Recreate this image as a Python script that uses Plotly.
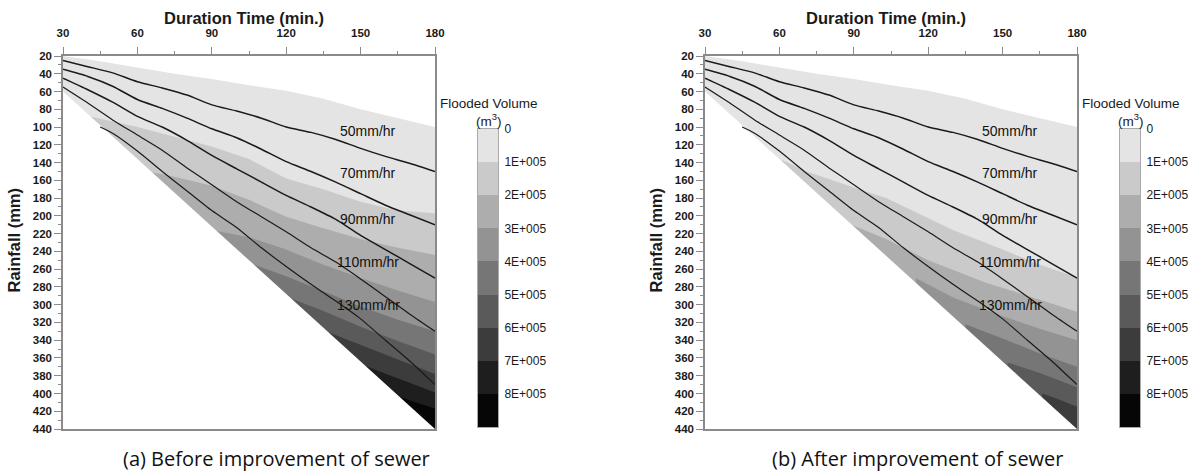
import plotly.graph_objects as go

# ---------------- data ----------------
dur_ticks = [30, 60, 90, 120, 150, 180]
rain_ticks = list(range(20, 441, 20))

cb_levels = [0, 1, 2, 3, 4, 5, 6, 7, 8]
cb_labels = ["0", "1E+005", "2E+005", "3E+005", "4E+005", "5E+005", "6E+005", "7E+005", "8E+005"]
band_colors = ["#e4e4e4", "#cacaca", "#adadad", "#939393", "#767676",
               "#5a5a5a", "#3c3c3c", "#1e1e1e", "#060606"]

# design-storm lines: rainfall depth (mm) vs duration (min)
line_x = [30, 40, 50, 60, 70, 80, 90, 100, 110, 120, 130, 140, 150, 160, 170, 180]
rain_50 = [25, 32, 39, 49, 56, 64, 75, 82, 90, 100, 106, 114, 124, 133, 141, 150]
rain_70 = [35, 43, 54, 69, 79, 90, 102, 112, 125, 139, 150, 162, 175, 188, 199, 210]
rain_90 = [45, 58, 72, 88, 100, 115, 132, 147, 162, 177, 190, 204, 222, 238, 254, 270]
rain_110 = [55, 73, 92, 109, 126, 146, 165, 184, 201, 218, 236, 252, 271, 291, 311, 330]
line130_x = [45, 50, 60, 70, 80, 90, 100, 110, 120, 130, 140, 150, 160, 170, 180]
rain_130 = [100, 107, 127, 150, 172, 194, 213, 236, 257, 277, 296, 316, 340, 364, 390]
line_names = ["50mm/hr", "70mm/hr", "90mm/hr", "110mm/hr", "130mm/hr"]

# outline of the computed domain
top_x = [30, 45, 60, 75, 90, 105, 120, 135, 150, 165, 180]
top_y = [20, 26, 33, 40, 46, 53, 59, 68, 80, 90, 100]
edge_x = [30, 180]
edge_y = [60, 440]

# (a) before improvement: flooded-volume level boundaries (1E5 ... 8E5)
a1_x = [41, 60, 75, 90, 105, 120, 135, 150, 165, 180]
a1_y = [88, 100, 111, 122, 136, 158, 170, 184, 194, 197]
a2_x = [66, 75, 90, 105, 120, 135, 150, 165, 180]
a2_y = [151, 156, 166, 182, 201, 214, 226, 236, 244]
a3_x = [92, 105, 120, 135, 150, 165, 180]
a3_y = [217, 224, 238, 255, 270, 284, 297]
a4_x = [107, 120, 135, 150, 165, 180]
a4_y = [255, 268, 285, 302, 317, 330]
a5_x = [122, 135, 150, 165, 180]
a5_y = [293, 307, 325, 341, 356]
a6_x = [137, 150, 165, 180]
a6_y = [331, 345, 362, 378]
a7_x = [152, 165, 180]
a7_y = [369, 383, 399]
a8_x = [166, 172, 180]
a8_y = [404, 410, 417]

# (b) after improvement
b1_x = [61, 71, 90, 103, 115, 130, 150, 165, 180]
b1_y = [137, 150, 168, 180, 196, 216, 238, 255, 269]
b2_x = [89, 103, 120, 143, 160, 180]
b2_y = [210, 226, 250, 275, 290, 308]
b3_x = [115, 130, 150, 165, 180]
b3_y = [270, 292, 313, 327, 340]
b4_x = [135, 150, 165, 180]
b4_y = [322, 338, 355, 370]
b5_x = [152, 165, 180]
b5_y = [365, 377, 393]
b6_x = [166, 172, 180]
b6_y = [400, 406, 415]

bounds_a = [(a1_x, a1_y), (a2_x, a2_y), (a3_x, a3_y), (a4_x, a4_y),
            (a5_x, a5_y), (a6_x, a6_y), (a7_x, a7_y), (a8_x, a8_y)]
bounds_b = [(b1_x, b1_y), (b2_x, b2_y), (b3_x, b3_y), (b4_x, b4_y),
            (b5_x, b5_y), (b6_x, b6_y)]

lines = [(line_x, rain_50), (line_x, rain_70), (line_x, rain_90),
         (line_x, rain_110), (line130_x, rain_130)]

# ---------------- figure ----------------
FONT = "Liberation Sans"
AXC = "#8a8a8a"
TXT = "#1a1a1a"
fig = go.Figure()


def poly(x, y, color, xa, ya):
    fig.add_trace(go.Scatter(x=x, y=y, fill="toself", fillcolor=color, mode="lines",
                             line=dict(width=0, color=color), xaxis=xa, yaxis=ya,
                             hoverinfo="skip", showlegend=False))


def add_panel(xa, ya, bounds):
    xmax, ymax = dur_ticks[-1], rain_ticks[-1]
    poly(top_x + [xmax, top_x[0]], top_y + [ymax, ymax], band_colors[0], xa, ya)
    for k, (bx, by) in enumerate(bounds, start=1):
        poly(bx + [xmax, bx[0]], by + [ymax, ymax], band_colors[k], xa, ya)
    # blank area outside the computed domain (lower-left)
    poly(edge_x + [edge_x[0]], edge_y + [ymax], "#ffffff", xa, ya)
    for i, (lx, ly) in enumerate(lines):
        fig.add_trace(go.Scatter(x=lx, y=ly, mode="lines",
                                 line=dict(color="#1a1a1a", width=1.5 if i < 3 else 1.2,
                                           shape="spline", smoothing=0.6),
                                 xaxis=xa, yaxis=ya, hoverinfo="skip", showlegend=False))


def add_cbar(xa, ya):
    n = len(cb_levels)
    cs = [[i / (n - 1), c] for i, c in enumerate(band_colors)]
    fig.add_trace(go.Heatmap(z=[[v] for v in cb_levels], x=[0], y=[v + 0.5 for v in cb_levels],
                             colorscale=cs, zmin=0, zmax=n - 1, showscale=False,
                             xaxis=xa, yaxis=ya, hoverinfo="skip", xgap=0, ygap=0))


add_panel("x", "y", bounds_a)
add_panel("x2", "y2", bounds_b)
add_cbar("x3", "y3")
add_cbar("x4", "y4")

W, H = 1190, 475
px = lambda v: v / W
py = lambda v: 1 - v / H

xcommon = dict(range=[30, 180], side="top", tickvals=dur_ticks, ticks="outside", ticklen=7,
               tickwidth=1.3, tickcolor=AXC, showline=True, linecolor=AXC, linewidth=1.5,
               mirror=True, showgrid=False, zeroline=False, automargin=False,
               ticklabelstandoff=6,
               tickfont=dict(family=FONT, size=11.5, color=TXT, weight="bold"),
               minor=dict(dtick=15, tick0=30, ticks="outside", ticklen=3, tickcolor=AXC, tickwidth=1))
ycommon = dict(range=[440, 20], tickvals=rain_ticks, ticks="outside", ticklen=7,
               tickwidth=1.3, tickcolor=AXC, showline=True, linecolor=AXC, linewidth=1.5,
               mirror=True, showgrid=False, zeroline=False, automargin=False,
               tickfont=dict(family=FONT, size=11.5, color=TXT, weight="bold"),
               minor=dict(dtick=10, tick0=20, ticks="outside", ticklen=3, tickcolor=AXC, tickwidth=1))

cbx = dict(range=[-0.5, 0.5], showticklabels=False, ticks="", showgrid=False, zeroline=False,
           showline=True, linecolor="#aaaaaa", linewidth=1, mirror=True, automargin=False)
cby = dict(range=[9, 0], tickvals=cb_levels, ticktext=cb_labels, side="right", ticks="",
           showgrid=False, zeroline=False, showline=True, linecolor="#aaaaaa", linewidth=1,
           mirror=True, ticklabelstandoff=3, automargin=False,
           tickfont=dict(family=FONT, size=12, color=TXT))

fig.update_layout(
    width=W, height=H, margin=dict(l=0, r=0, t=0, b=0, pad=0, autoexpand=False),
    paper_bgcolor="white", plot_bgcolor="white",
    xaxis=dict(domain=[px(63), px(435)], anchor="y", **xcommon),
    yaxis=dict(domain=[py(429), py(56)], anchor="x", **ycommon),
    xaxis2=dict(domain=[px(705), px(1077)], anchor="y2", **xcommon),
    yaxis2=dict(domain=[py(429), py(56)], anchor="x2", **ycommon),
    xaxis3=dict(domain=[px(478), px(498)], anchor="y3", **cbx),
    yaxis3=dict(domain=[py(427), py(129)], anchor="x3", **cby),
    xaxis4=dict(domain=[px(1120), px(1140)], anchor="y4", **cbx),
    yaxis4=dict(domain=[py(427), py(129)], anchor="x4", **cby),
)

ann = []
C = dict(xanchor="center", yanchor="middle", showarrow=False)
for off, xr, yr, cap in [(0, "x", "y", "(a) Before improvement of sewer"),
                         (642, "x2", "y2", "(b) After improvement of sewer")]:
    ann.append(dict(x=px(244 + off), y=py(18), xref="paper", yref="paper", **C,
                    text="<b>Duration Time (min.)</b>", font=dict(family=FONT, size=16.5, color=TXT)))
    ann.append(dict(x=px(13.5 + off), y=py(240), xref="paper", yref="paper", **C,
                    textangle=-90, text="<b>Rainfall (mm)</b>", font=dict(family=FONT, size=16.5, color=TXT)))
    ann.append(dict(x=px(489 + off), y=py(103), xref="paper", yref="paper", **C,
                    text="Flooded Volume", font=dict(family=FONT, size=13.5, color=TXT)))
    ann.append(dict(x=px(489 + off), y=py(120), xref="paper", yref="paper", **C,
                    text="(m<sup>3</sup>)", font=dict(family=FONT, size=13.5, color=TXT)))
    ann.append(dict(x=px(276 + off), y=py(458), xref="paper", yref="paper", **C,
                    text=cap, font=dict(family="Open Sans", size=20, color="#111111")))
    for name, ly in zip(line_names, [105, 152, 203, 252, 300]):
        ann.append(dict(x=153, y=ly, xref=xr, yref=yr, **C, text=name,
                        font=dict(family=FONT, size=14, color="#111111")))
fig.update_layout(annotations=ann)

fig.write_html("out.html")
